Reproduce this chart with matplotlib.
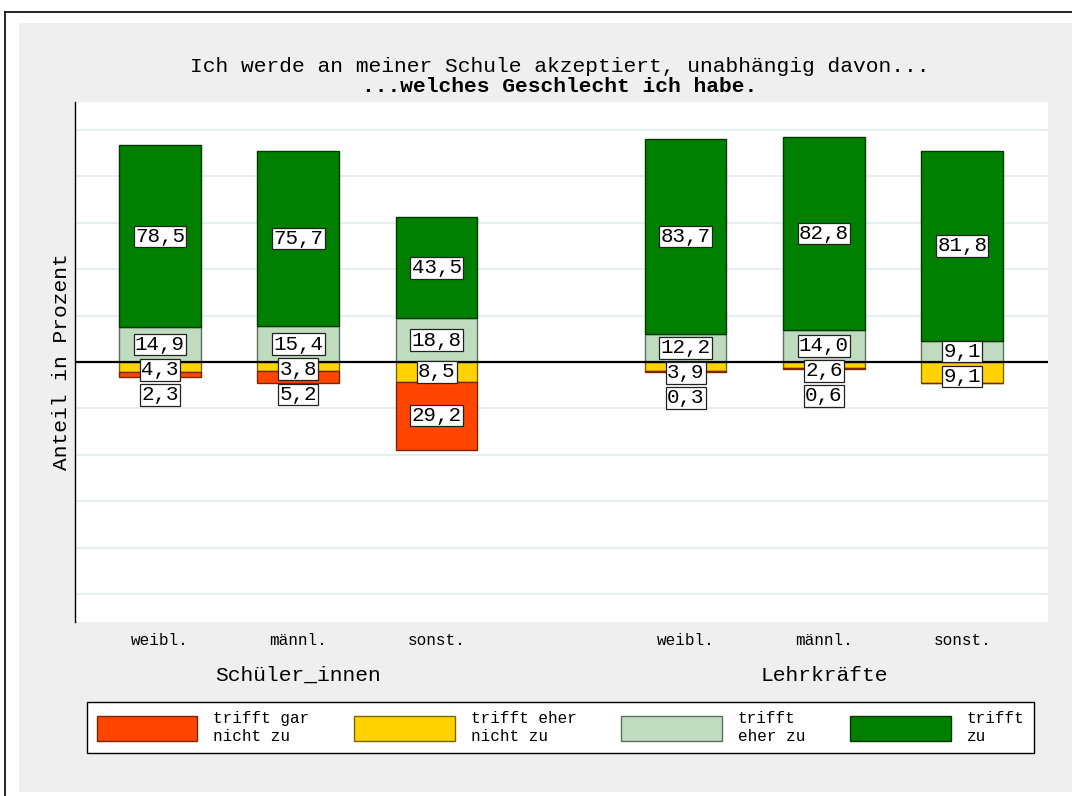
import matplotlib
matplotlib.use("Agg")
import matplotlib.pyplot as plt
from matplotlib.patches import Patch, Rectangle
from matplotlib.lines import Line2D

# ---- data ----
groups = ["Schüler_innen", "Lehrkräfte"]
categories = ["weibl.", "männl.", "sonst.", "weibl.", "männl.", "sonst."]
trifft_gar_nicht_zu = [2.3, 5.2, 29.2, 0.3, 0.6, 0.0]
trifft_eher_nicht_zu = [4.3, 3.8, 8.5, 3.9, 2.6, 9.1]
trifft_eher_zu = [14.9, 15.4, 18.8, 12.2, 14.0, 9.1]
trifft_zu = [78.5, 75.7, 43.5, 83.7, 82.8, 81.8]
legend_labels = ["trifft gar\nnicht zu", "trifft eher\nnicht zu", "trifft\neher zu", "trifft\nzu"]
title_line1 = "Ich werde an meiner Schule akzeptiert, unabhängig davon..."
title_line2 = "...welches Geschlecht ich habe."
ylabel = "Anteil in Prozent"

# ---- style ----
plt.rcParams["font.family"] = ["Liberation Mono", "DejaVu Sans Mono"]
col_red, col_yel, col_lgr, col_grn = "#ff4500", "#ffd200", "#c0dcc0", "#008000"
edge_red, edge_yel, edge_lgr, edge_grn = "#7a2600", "#7a6600", "#5f6f5f", "#003800"

W, H = 1072, 796
fig = plt.figure(figsize=(W / 100, H / 100), dpi=100)
fig.patch.set_facecolor("white")

def fx(px):
    return px / W

def fy(py):
    return 1 - py / H

# gray panel + outer frame
fig.patches.append(Rectangle((fx(19), fy(792)), 1 - fx(19), fy(22.5) - fy(792),
                             transform=fig.transFigure, facecolor="#efefef",
                             edgecolor="none", zorder=-10))
fig.lines.append(Line2D([fx(5), fx(5)], [0, fy(12)], transform=fig.transFigure,
                        color="black", lw=1.2, zorder=-5))
fig.lines.append(Line2D([fx(5), 1], [fy(12), fy(12)], transform=fig.transFigure,
                        color="black", lw=1.2, zorder=-5))

ax = fig.add_axes([fx(75), fy(622), fx(1048) - fx(75), fy(102) - fy(622)])
ax.set_facecolor("white")

# positions: 3 bars per group, gap between groups
group_gap = 1.8
positions = []
for g in range(len(groups)):
    for i in range(3):
        positions.append(g * (2 + group_gap) + i)
bw = 0.59

ax.set_xlim(-0.614, positions[-1] + 0.62)
ax.set_ylim(-112, 112)

# gridlines
for v in [-100, -80, -60, -40, -20, 20, 40, 60, 80, 100]:
    ax.axhline(v, color="#e6eef0", lw=1.5, zorder=0)

neg_gar = [-v for v in trifft_gar_nicht_zu]
neg_eher = [-v for v in trifft_eher_nicht_zu]

ax.bar(positions, trifft_eher_zu, width=bw, color=col_lgr, edgecolor=edge_lgr, lw=1, zorder=2)
ax.bar(positions, trifft_zu, width=bw, bottom=trifft_eher_zu, color=col_grn, edgecolor=edge_grn, lw=1, zorder=2)
ax.bar(positions, neg_eher, width=bw, color=col_yel, edgecolor=edge_yel, lw=1, zorder=2)
ax.bar(positions, neg_gar, width=bw, bottom=neg_eher, color=col_red, edgecolor=edge_red, lw=1, zorder=2)

ax.axhline(0, color="black", lw=1.6, zorder=3)

def fmt(v):
    return f"{v:.1f}".replace(".", ",")

sep = 10.8  # minimum label separation in data units
box = dict(boxstyle="square,pad=0.06", fc="white", ec="#222222", lw=0.9)
for i, x in enumerate(positions):
    lg, gz = trifft_eher_zu[i], trifft_zu[i]
    ye, yg = trifft_eher_nicht_zu[i], trifft_gar_nicht_zu[i]
    # positive side
    c1 = lg / 2
    c2 = max(lg + gz / 2, c1 + sep)
    ax.text(x, c1, fmt(lg), ha="center", va="center", fontsize=15, bbox=box, zorder=5)
    ax.text(x, c2, fmt(gz), ha="center", va="center", fontsize=15, bbox=box, zorder=5)
    # negative side
    n1 = min(-ye / 2, c1 - sep)
    ax.text(x, n1, fmt(ye), ha="center", va="center", fontsize=15, bbox=box, zorder=5)
    if yg > 0:
        n2 = min(-(ye + yg / 2), n1 - sep)
        ax.text(x, n2, fmt(yg), ha="center", va="center", fontsize=15, bbox=box, zorder=5)

ax.set_xticks(positions, categories, fontsize=11.5)
ax.set_yticks([])
ax.tick_params(axis="x", length=0, pad=8)
for s in ["top", "right", "bottom"]:
    ax.spines[s].set_visible(False)
ax.spines["left"].set_color("black")
ax.spines["left"].set_linewidth(1)

# group labels under middle bar
for g, name in enumerate(groups):
    ax.text(positions[g * 3 + 1], -0.102, name, transform=ax.get_xaxis_transform(),
            ha="center", va="center", fontsize=15.3)

ax.set_ylabel(ylabel, fontsize=15.3, va="center")
ax.yaxis.set_label_coords(-0.0134, 0.5)

fig.text(fx(560), fy(66), title_line1, ha="center", va="center", fontsize=15.3)
fig.text(fx(560), fy(87), title_line2, ha="center", va="center", fontsize=15.3, fontweight="bold")

handles = [Patch(facecolor=col_red, edgecolor=edge_red),
           Patch(facecolor=col_yel, edgecolor=edge_yel),
           Patch(facecolor=col_lgr, edgecolor=edge_lgr),
           Patch(facecolor=col_grn, edgecolor=edge_grn)]
leg = fig.legend(handles, legend_labels, ncol=4, loc="center",
                 bbox_to_anchor=(fx((88 + 1033) / 2), fy(727.5)),
                 fontsize=11.5, handlelength=6.3, handleheight=2.1,
                 handletextpad=1.0, columnspacing=2.8, borderpad=0.6,
                 frameon=True, fancybox=False, framealpha=1)
leg.get_frame().set_edgecolor("black")
leg.get_frame().set_linewidth(1)
for t in leg.get_texts():
    t.set_linespacing(1.2)

fig.savefig("out.png", dpi=100, facecolor=fig.get_facecolor())
